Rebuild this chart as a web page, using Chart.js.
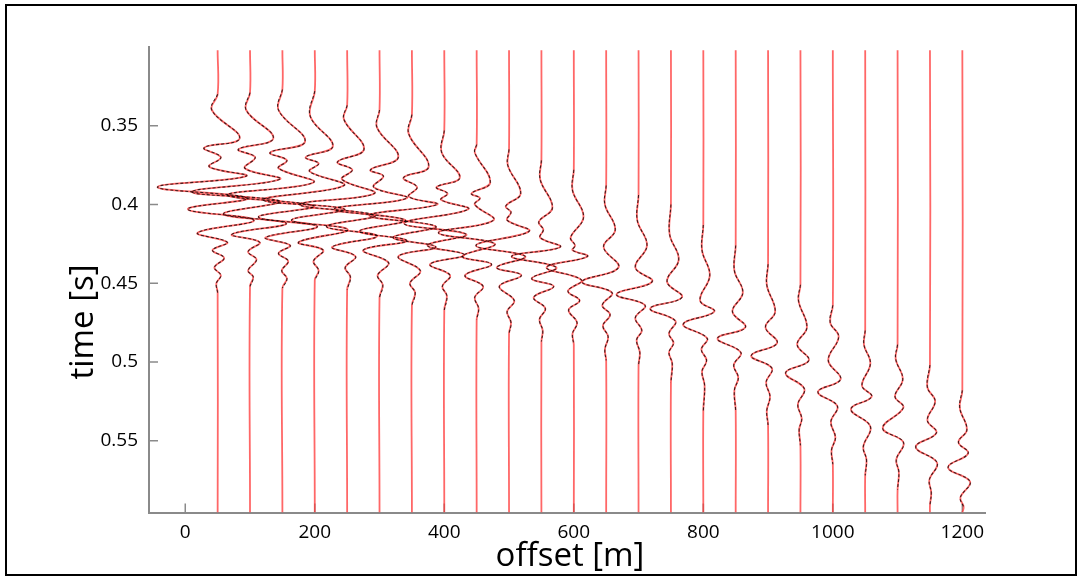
<!DOCTYPE html>
<html>
<head>
<meta charset="utf-8">
<script src="https://cdn.jsdelivr.net/npm/chart.js@4.4.1/dist/chart.umd.min.js"></script>
<style>
  html, body { margin: 0; padding: 0; background: #fff; }
  #wrap { position: relative; width: 1078px; height: 576px; }
  #frame { position: absolute; left: 5px; top: 4px; width: 1072px; height: 572px;
           box-sizing: border-box; border: 2px solid #000; pointer-events: none; }
  canvas { position: absolute; left: 0; top: 0; }
</style>
</head>
<body>
<div id="wrap">
  <canvas id="wiggle" width="1078" height="576"></canvas>
  <div id="frame"></div>
</div>
<script>
// trace offsets [m] and record length [s]
const offsets = [50, 100, 150, 200, 250, 300, 350, 400, 450, 500, 550, 600,
                 650, 700, 750, 800, 850, 900, 950, 1000, 1050, 1100, 1150, 1200];
const traceStart = 0.302;
const traceEnd = 0.5956;

const xTicks = [0, 200, 400, 600, 800, 1000, 1200];
const yTicks = [0.35, 0.4, 0.45, 0.5, 0.55];

// wiggle extrema: [time s, deflection m]
const tr50 = [[0.330,0],[0.340,-9],[0.358,34],[0.364,-21],[0.370,5],[0.376,-13],[0.382,44],[0.389,-93],[0.396,46],[0.403,-46],[0.410,56],[0.418,-31],[0.424,15],[0.429,-8],[0.434,10],[0.440,-5],[0.445,5],[0.450,-2],[0.456,0]];
const tr100 = [[0.329,0],[0.340,-6],[0.358,36],[0.365,-18],[0.370,8],[0.377,-8],[0.384,46],[0.392,-90],[0.398,46],[0.406,-41],[0.412,56],[0.419,-28],[0.424,15],[0.430,-3],[0.435,10],[0.442,-3],[0.446,5],[0.452,0]];
const tr150 = [[0.327,0],[0.340,-6],[0.360,35],[0.367,-19],[0.372,7],[0.377,-6],[0.386,48],[0.394,-85],[0.401,49],[0.408,-37],[0.414,54],[0.421,-26],[0.426,12],[0.431,-6],[0.436,9],[0.442,-1],[0.447,7],[0.453,0]];
const tr200 = [[0.328,0],[0.344,-7],[0.363,28],[0.370,-14],[0.374,6],[0.379,-8],[0.388,45],[0.397,-80],[0.403,46],[0.410,-36],[0.416,51],[0.424,-25],[0.429,13],[0.436,-2],[0.442,6],[0.448,0]];
const tr250 = [[0.337,0],[0.346,-5],[0.365,26],[0.373,-15],[0.378,8],[0.384,-8],[0.393,42],[0.400,-74],[0.407,43],[0.414,-32],[0.420,46],[0.427,-23],[0.433,13],[0.440,-3],[0.446,5],[0.454,0]];
const tr300 = [[0.340,0],[0.351,-4],[0.370,29],[0.378,-14],[0.382,6],[0.389,-9],[0.396,42],[0.403,-70],[0.410,40],[0.417,-31],[0.423,42],[0.429,-25],[0.437,14],[0.445,-3],[0.451,5],[0.459,0]];
const tr350 = [[0.343,0],[0.355,-5],[0.376,26],[0.383,-13],[0.389,8],[0.395,-5],[0.400,39],[0.407,-66],[0.414,37],[0.421,-29],[0.427,37],[0.433,-21],[0.442,13],[0.450,-3],[0.456,5],[0.464,0]];
const tr400 = [[0.353,0],[0.367,-4],[0.383,24],[0.389,-12],[0.393,5],[0.397,-5],[0.403,37],[0.412,-62],[0.419,34],[0.426,-26],[0.432,31],[0.438,-22],[0.445,9],[0.452,-3],[0.458,4],[0.467,0]];
const tr450 = [[0.362,0],[0.367,-3],[0.386,21],[0.393,-8],[0.396,5],[0.400,-3],[0.410,26],[0.418,-59],[0.425,28],[0.433,-22],[0.438,23],[0.445,-18],[0.452,10],[0.459,-3],[0.466,3],[0.473,0]];
const tr500 = [[0.365,0],[0.375,-2],[0.393,18],[0.401,-5],[0.405,3],[0.410,-3],[0.417,31],[0.426,-51],[0.433,25],[0.440,-19],[0.445,19],[0.452,-15],[0.461,8],[0.468,-3],[0.475,3],[0.482,0]];
const tr550 = [[0.372,0],[0.384,-2],[0.402,17],[0.411,-4],[0.416,3],[0.421,-2],[0.427,29],[0.433,-46],[0.440,23],[0.447,-15],[0.452,19],[0.459,-12],[0.466,6],[0.473,-3],[0.480,2],[0.487,0]];
const tr600 = [[0.378,0],[0.391,-2],[0.408,15],[0.421,-5],[0.426,2],[0.429,-2],[0.433,21],[0.440,-42],[0.448,12],[0.455,-9],[0.461,9],[0.467,-8],[0.475,5],[0.482,-2],[0.489,0]];
const tr650 = [[0.388,0],[0.400,-2],[0.416,14],[0.427,-4],[0.440,19],[0.449,-37],[0.456,9],[0.464,-6],[0.470,6],[0.477,-5],[0.484,3],[0.492,-2],[0.499,0]];
const tr700 = [[0.394,0],[0.410,-2],[0.426,13],[0.440,-5],[0.449,21],[0.457,-34],[0.464,10],[0.472,-5],[0.480,5],[0.486,-3],[0.494,2],[0.502,0]];
const tr750 = [[0.400,0],[0.419,-2],[0.435,12],[0.449,-6],[0.459,17],[0.466,-32],[0.474,7],[0.482,-3],[0.488,4],[0.494,-3],[0.501,2],[0.513,0]];
const tr800 = [[0.413,0],[0.429,-2],[0.445,10],[0.461,-5],[0.468,17],[0.476,-31],[0.485,6],[0.492,-3],[0.499,5],[0.506,-2],[0.515,2],[0.531,0]];
const tr850 = [[0.426,0],[0.442,-2],[0.456,11],[0.468,-5],[0.478,15],[0.485,-28],[0.494,8],[0.502,-3],[0.510,4],[0.518,-2],[0.531,0]];
const tr900 = [[0.438,0],[0.451,-2],[0.468,11],[0.478,-4],[0.488,14],[0.496,-26],[0.504,6],[0.513,-3],[0.522,3],[0.531,-2],[0.540,0]];
const tr950 = [[0.451,0],[0.461,-3],[0.478,10],[0.489,-5],[0.499,13],[0.507,-23],[0.517,6],[0.527,-4],[0.536,2],[0.543,-2],[0.553,0]];
const tr1000 = [[0.464,0],[0.475,-4],[0.484,9],[0.499,-7],[0.511,12],[0.519,-23],[0.528,7],[0.538,-3],[0.548,4],[0.556,-2],[0.565,0]];
const tr1050 = [[0.480,0],[0.489,-2],[0.501,8],[0.515,-5],[0.522,10],[0.530,-22],[0.541,8],[0.554,-3],[0.562,2],[0.572,0]];
const tr1100 = [[0.489,0],[0.498,-3],[0.511,8],[0.522,-4],[0.529,9],[0.542,-23],[0.551,9],[0.562,-2],[0.570,2],[0.581,0]];
const tr1150 = [[0.502,0],[0.516,-4],[0.525,8],[0.537,-4],[0.545,10],[0.554,-22],[0.564,11],[0.575,-1],[0.583,2],[0.591,0]];
const tr1200 = [[0.518,0],[0.529,-4],[0.543,7],[0.551,-6],[0.558,9],[0.567,-22],[0.576,12],[0.586,-3],[0.592,2]];

const traces = [tr50, tr100, tr150, tr200, tr250, tr300, tr350, tr400, tr450, tr500, tr550, tr600,
                tr650, tr700, tr750, tr800, tr850, tr900, tr950, tr1000, tr1050, tr1100, tr1150, tr1200];

const axisGray = '#8a8a8a';
const datasets = [];
offsets.forEach(function (off, i) {
    const pts = traces[i].map(function (p) { return {x: off + p[1], y: p[0]}; });
    // modelled trace (red, full record)
    datasets.push({
        data: [{x: off, y: traceStart}].concat(pts, [{x: off, y: traceEnd}]),
        borderColor: 'rgba(255,60,60,0.78)',
        borderWidth: 1.8,
        order: 1
    });
    // observed trace (black dashed, wiggle part)
    datasets.push({
        data: pts,
        borderColor: 'rgba(0,0,0,0.75)',
        borderWidth: 1.1,
        borderDash: [3, 2],
        order: 0
    });
});

const decor = {
    id: 'decor',
    beforeDatasetsDraw(chart) {
        const {ctx, chartArea, scales} = chart;
        ctx.save();
        ctx.strokeStyle = axisGray;
        ctx.lineWidth = 1.5;
        ctx.beginPath();
        yTicks.forEach(function (v) {
            const py = scales.y.getPixelForValue(v);
            ctx.moveTo(chartArea.left, py);
            ctx.lineTo(chartArea.left + 9, py);
        });
        xTicks.forEach(function (v) {
            const px = scales.x.getPixelForValue(v);
            ctx.moveTo(px, chartArea.bottom);
            ctx.lineTo(px, chartArea.bottom - 9);
        });
        ctx.stroke();
        ctx.restore();
    },
    afterDraw(chart) {
        const ctx = chart.ctx;
        ctx.save();
        ctx.fillStyle = '#000';
        ctx.font = '33px "Open Sans"';
        ctx.textAlign = 'center';
        ctx.textBaseline = 'alphabetic';
        ctx.fillText('offset [m]', 570, 566);
        ctx.translate(93, 322);
        ctx.rotate(-Math.PI / 2);
        ctx.fillText('time [s]', 0, 0);
        ctx.restore();
    }
};

const ctx = document.getElementById('wiggle').getContext('2d');
new Chart(ctx, {
    type: 'scatter',
    data: {datasets: datasets},
    options: {
        responsive: false,
        animation: false,
        events: [],
        showLine: true,
        elements: {
            point: {radius: 0},
            line: {tension: 0.4, fill: false}
        },
        layout: {padding: {top: 47, right: 93, left: 0, bottom: 0}},
        plugins: {legend: {display: false}, tooltip: {enabled: false}},
        scales: {
            x: {
                type: 'linear',
                min: -56,
                max: 1235,
                afterFit: function (s) { s.height = 63.5; },
                afterBuildTicks: function (s) { s.ticks = xTicks.map(function (v) { return {value: v}; }); },
                grid: {display: false, drawTicks: false},
                border: {display: true, color: axisGray, width: 2},
                ticks: {color: '#000', padding: 9, font: {family: 'Open Sans', size: 19}, maxRotation: 0,
                        callback: function (v) { return String(v); }}
            },
            y: {
                type: 'linear',
                reverse: true,
                min: 0.3,
                max: 0.5956,
                afterFit: function (s) { s.width = 149; },
                afterBuildTicks: function (s) { s.ticks = yTicks.map(function (v) { return {value: v}; }); },
                grid: {display: false, drawTicks: false},
                border: {display: true, color: axisGray, width: 2},
                ticks: {color: '#000', padding: 11, font: {family: 'Open Sans', size: 19},
                        callback: function (v) { return String(v); }}
            }
        }
    },
    plugins: [decor]
});
</script>
</body>
</html>
